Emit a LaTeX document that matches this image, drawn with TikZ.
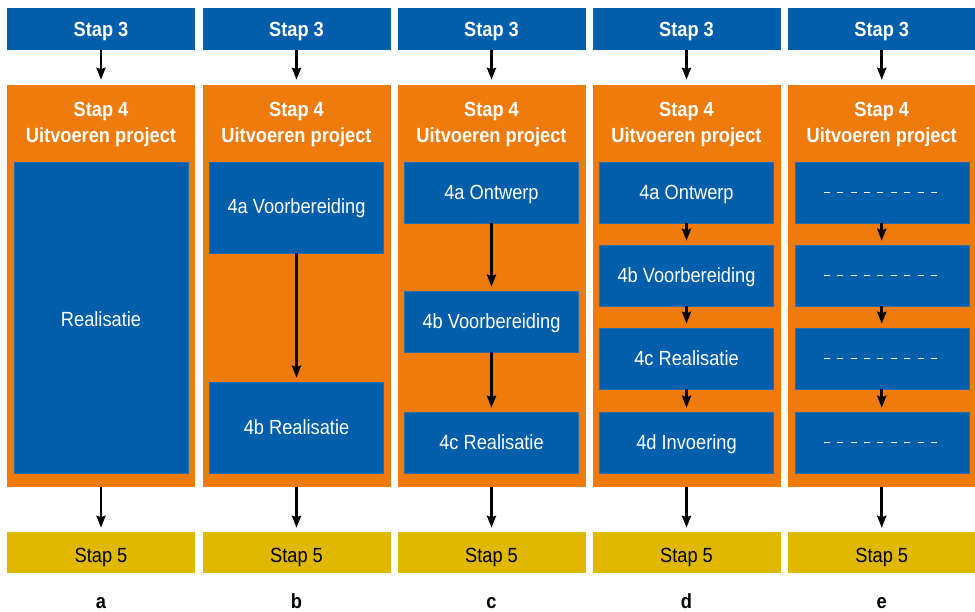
\documentclass[tikz,border=0pt]{standalone}
\usepackage{fontspec}
\setmainfont[FakeStretch=0.89]{Liberation Sans}
\usetikzlibrary{arrows.meta}
\definecolor{cblue}{RGB}{0,94,170}
\definecolor{cblueedge}{RGB}{40,110,170}
\definecolor{corange}{RGB}{239,123,12}
\definecolor{cyellow}{RGB}{224,184,0}
\tikzset{
  fnt/.style={font=\fontsize{20.5}{26}\selectfont},
  topbox/.style={fill=cblue, text=white, minimum width=188pt, minimum height=42pt, inner sep=0pt, text height=15.4pt, text depth=0pt, font=\fontsize{20.5}{26}\selectfont\bfseries},
  orangebox/.style={fill=corange, minimum width=188pt, minimum height=402pt, inner sep=0pt},
  titletext/.style={text=white, align=center, inner sep=0pt, font=\fontsize{20.5}{26}\selectfont\bfseries},
  innerbox/.style={fnt, fill=cblue, draw=cblueedge, line width=0.5pt, text=white, minimum width=174pt, inner sep=0pt, text height=14pt, text depth=0pt},
  yellowbox/.style={fnt, fill=cyellow, text=black, minimum width=188pt, minimum height=41pt, inner sep=0pt, text height=20pt, text depth=0pt},
  lettertext/.style={inner sep=0pt, font=\fontsize{20.5}{26}\selectfont\bfseries},
  arr/.style={-{Stealth[length=12pt,width=9pt,inset=1.5pt]}, line width=2.8pt, shorten >=4pt},
  dashline/.style={white, line width=1.6pt, dash pattern=on 6pt off 7.4pt},
}
\begin{document}
\begin{tikzpicture}[x=1pt,y=-1pt]
\useasboundingbox (0,0) rectangle (975,612);
% common column frames
\foreach \n/\cx/\lt in {a/101/a, b/296.5/b, c/491.5/c, d/686.5/d, e/881.75/e}{
  \node[topbox] (\n3) at (\cx,29) {Stap 3};
  \node[orangebox] (\n4) at (\cx,286) {};
  \node[titletext, anchor=base] (\n4t) at (\cx,143) {Stap 4\\Uitvoeren project};
  \node[yellowbox] (\n5) at (\cx,552.5) {Stap 5};
  \node[lettertext, anchor=base] (\n l) at (\cx,608) {\lt};
  \draw[arr, shorten >=5pt] (\n3) -- (\n4);
  \draw[arr] (\n4) -- (\n5);
}
% column a
\node[innerbox, minimum height=311pt, text height=18pt] (a1) at (101,317.5) {Realisatie};
% column b
\node[innerbox, minimum height=91pt, text height=12pt] (b1) at (296.5,207.5) {4a Voorbereiding};
\node[innerbox, minimum height=91pt] (b2) at (296.5,427.5) {4b Realisatie};
\draw[arr] (b1) -- (b2);
% column c
\node[innerbox, minimum height=61pt] (c1) at (491.5,192.5) {4a Ontwerp};
\node[innerbox, minimum height=61pt] (c2) at (491.5,321.5) {4b Voorbereiding};
\node[innerbox, minimum height=61pt] (c3) at (491.5,442.5) {4c Realisatie};
\draw[arr] (c1) -- (c2);
\draw[arr] (c2) -- (c3);
% column d
\node[innerbox, minimum height=61pt] (d1) at (686.5,192.5) {4a Ontwerp};
\node[innerbox, minimum height=61pt] (d2) at (686.5,275.5) {4b Voorbereiding};
\node[innerbox, minimum height=61pt] (d3) at (686.5,358.5) {4c Realisatie};
\node[innerbox, minimum height=61pt] (d4) at (686.5,442.5) {4d Invoering};
\draw[arr] (d1) -- (d2);
\draw[arr] (d2) -- (d3);
\draw[arr] (d3) -- (d4);
% column e
\node[innerbox, minimum height=61pt] (e1) at (881.75,192.5) {};
\node[innerbox, minimum height=61pt] (e2) at (881.75,275.5) {};
\node[innerbox, minimum height=61pt] (e3) at (881.75,358.5) {};
\node[innerbox, minimum height=61pt] (e4) at (881.75,442.5) {};
\draw[arr] (e1) -- (e2);
\draw[arr] (e2) -- (e3);
\draw[arr] (e3) -- (e4);
\foreach \n in {e1,e2,e3,e4}{
  \draw[dashline] ([xshift=-58pt]\n.center) -- ([xshift=57pt]\n.center);
}
\end{tikzpicture}
\end{document}
